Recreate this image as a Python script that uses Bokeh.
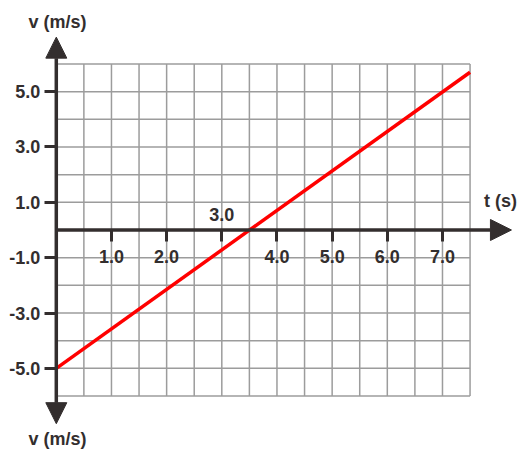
from bokeh.plotting import figure
from bokeh.models import (Range1d, LinearAxis, FixedTicker, PrintfTickFormatter,
                          Arrow, NormalHead, Label)
from bokeh.embed import file_html
from bokeh.resources import INLINE

# ---- data ----
t_line = [0.0, 7.5]
v_line = [-5.0, 5.7]
x_ticks = [1, 2, 3, 4, 5, 6, 7]
y_ticks = [-5, -3, -1, 1, 3, 5]
special_label = "3.0"
x_title = "t (s)"
y_title = "v (m/s)"
grid_t_max = 7.5
grid_v_min, grid_v_max = -6, 6

AX = "#332e2e"
GRID = "#9c9c9c"
FONT = "Liberation Sans"

p = figure(width=526, height=456, output_backend="svg", toolbar_location=None,
           x_range=Range1d(-1.0114, 8.523), y_range=Range1d(-8.186, 8.294),
           x_axis_location=None, y_axis_location=None,
           min_border=0, min_border_left=0, min_border_right=0,
           min_border_top=0, min_border_bottom=0)
p.outline_line_color = None
p.xgrid.visible = False
p.ygrid.visible = False
p.background_fill_color = "white"

# grid
vx = [i * 0.5 for i in range(int(grid_t_max / 0.5) + 1)]
p.segment(x0=vx, y0=[grid_v_min] * len(vx), x1=vx, y1=[grid_v_max] * len(vx),
          line_color=GRID, line_width=1.5)
hy = list(range(grid_v_min, grid_v_max + 1))
p.segment(x0=[0] * len(hy), y0=hy, x1=[grid_t_max] * len(hy), y1=hy,
          line_color=GRID, line_width=1.5)

# axes with ticks and labels
xa = LinearAxis(fixed_location=0, ticker=FixedTicker(ticks=x_ticks),
                formatter=PrintfTickFormatter(format="%.1f"),
                major_label_overrides={3: ""})
ya = LinearAxis(fixed_location=0, ticker=FixedTicker(ticks=y_ticks),
                formatter=PrintfTickFormatter(format="%.1f"))
for ax in (xa, ya):
    ax.axis_line_color = None
    ax.minor_tick_line_color = None
    ax.major_tick_in = 0
    ax.major_tick_out = 12
    ax.major_tick_line_width = 3
    ax.major_tick_line_color = AX
    ax.major_label_text_font = FONT
    ax.major_label_text_font_style = "bold"
    ax.major_label_text_font_size = "18px"
    ax.major_label_text_color = AX
xa.major_label_standoff = 8
ya.major_label_standoff = 4
p.add_layout(xa, "below")
p.add_layout(ya, "left")

# axis lines with arrowheads
for (x0, y0, x1, y1) in [(0, 0, 8.25, 0), (0, 0, 0, 6.97), (0, 0, 0, -7.0)]:
    p.add_layout(Arrow(end=NormalHead(size=21, fill_color=AX, line_color=AX, line_width=1),
                       x_start=x0, y_start=y0, x_end=x1, y_end=y1,
                       line_color=AX, line_width=3.5))

# red line
p.line(t_line, v_line, line_color="#ff0000", line_width=3.5)

# labels
def lab(x, y, text, size="18px"):
    p.add_layout(Label(x=x, y=y, text=text, text_align="center", text_baseline="middle",
                       text_font=FONT, text_font_style="bold", text_font_size=size,
                       text_color=AX))

lab(0.02, 7.5, y_title)
lab(0.02, -7.57, y_title)
lab(8.05, 1.03, x_title)
lab(3.0, 0.56, special_label)

open("out.html", "w").write(file_html(p, INLINE))
